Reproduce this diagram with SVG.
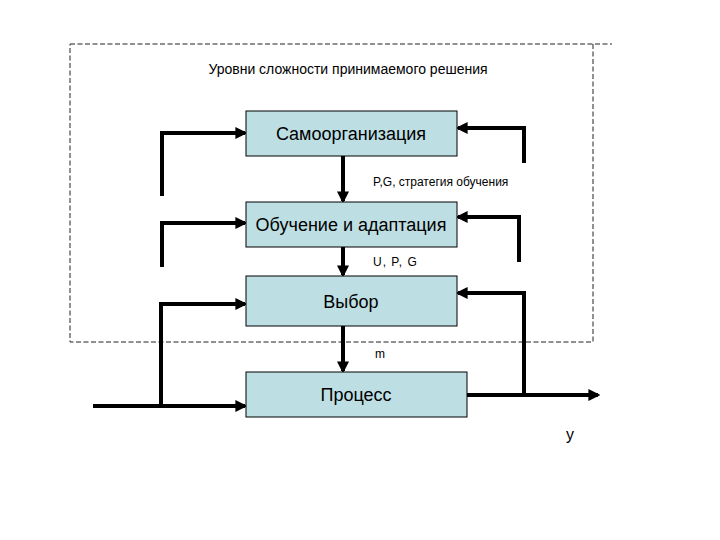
<svg xmlns="http://www.w3.org/2000/svg" width="720" height="540" viewBox="0 0 720 540">
<style>
.box{fill:#bddfe3;stroke:#000;stroke-width:1}
.t{font-family:"Liberation Sans",Arial,sans-serif;fill:#000}
.bt{font-size:18px;text-anchor:middle}
.lbl{font-size:12px}
.ln{fill:none;stroke:#000;stroke-width:4}
.dash{fill:none;stroke:#222;stroke-width:1;stroke-dasharray:5,2.5}
</style>
<defs>
<marker id="ah" markerWidth="3" markerHeight="3" refX="2.4" refY="1.5" orient="auto" markerUnits="strokeWidth">
<path d="M0,0 L3,1.5 L0,3 Z" fill="#000"/>
</marker>
</defs>
<rect width="720" height="540" fill="#fff"/>
<g id="frame">
<path class="dash" d="M70,44 H612 M593,44 V342 H70 V44"/>
<text class="t" x="348" y="74" font-size="14" text-anchor="middle">Уровни сложности принимаемого решения</text>
</g>
<g id="connectors">
<path class="ln" marker-end="url(#ah)" d="M162,196 V133 H245"/>
<path class="ln" marker-end="url(#ah)" d="M524,163 V128 H458"/>
<path class="ln" marker-end="url(#ah)" d="M162,267 V223 H245"/>
<path class="ln" marker-end="url(#ah)" d="M519,262 V217 H458"/>
<path class="ln" marker-end="url(#ah)" d="M343,156 V201"/>
<path class="ln" marker-end="url(#ah)" d="M343,247 V275"/>
<path class="ln" marker-end="url(#ah)" d="M343,326 V371"/>
<path class="ln" marker-end="url(#ah)" d="M93,406 H245"/>
<path class="ln" marker-end="url(#ah)" d="M161,406 V304 H245"/>
<path class="ln" marker-end="url(#ah)" d="M467,395 H598"/>
<path class="ln" marker-end="url(#ah)" d="M524,395 V293 H458"/>
<text class="t lbl" x="373" y="186">P,G, стратегия обучения</text>
<text class="t lbl" x="373" y="266" letter-spacing="1">U, P, G</text>
<text class="t lbl" x="375" y="358">m</text>
<text class="t" x="566" y="440" font-size="16">y</text>
</g>
<g id="n1"><rect class="box" x="246" y="111" width="211" height="45"/><text class="t bt" x="351" y="140">Самоорганизация</text></g>
<g id="n2"><rect class="box" x="246" y="202" width="211" height="45"/><text class="t bt" x="351" y="231">Обучение и адаптация</text></g>
<g id="n3"><rect class="box" x="246" y="276" width="211" height="50"/><text class="t bt" x="351" y="308">Выбор</text></g>
<g id="n4"><rect class="box" x="246" y="372" width="221" height="45"/><text class="t bt" x="356" y="401">Процесс</text></g>
</svg>
